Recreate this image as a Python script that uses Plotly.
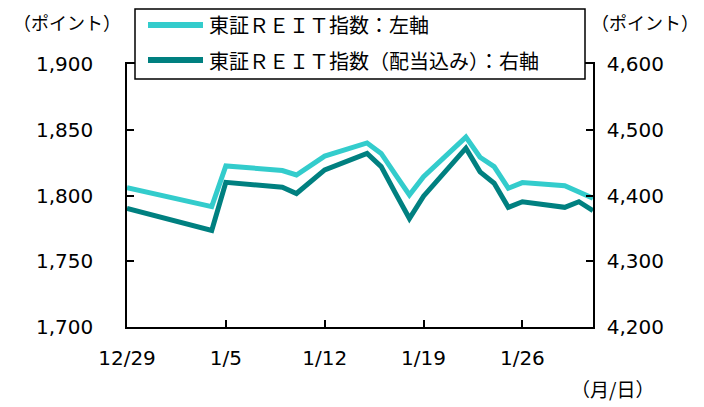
import plotly.graph_objects as go

dates = ["2023-12-29", "2024-01-04", "2024-01-05", "2024-01-09", "2024-01-10", "2024-01-11",
         "2024-01-12", "2024-01-15", "2024-01-16", "2024-01-17", "2024-01-18", "2024-01-19",
         "2024-01-22", "2024-01-23", "2024-01-24", "2024-01-25", "2024-01-26", "2024-01-29",
         "2024-01-30", "2024-01-31"]
reit_index = [1806, 1791.5, 1822.5, 1819, 1815.6, 1823, 1830, 1840, 1832, 1816, 1800.4, 1814.3,
              1844.4, 1829.1, 1822, 1805.5, 1809.8, 1807.5, 1802.9, 1797.9]
reit_total = [4380.5, 4347, 4420, 4412.5, 4403, 4421, 4439, 4464, 4444, 4404, 4365, 4399,
              4472, 4436, 4418.6, 4382, 4390.5, 4382, 4390.5, 4377]

tick_dates = ["2023-12-29", "2024-01-05", "2024-01-12", "2024-01-19", "2024-01-26"]
tick_labels = ["12/29", "1/5", "1/12", "1/19", "1/26"]
name_left = "東証ＲＥＩＴ指数：左軸"
name_right = "東証ＲＥＩＴ指数（配当込み）：右軸"

c_light = "#33CCCC"
c_dark = "#008080"
num_font = dict(family="DejaVu Sans, Verdana, sans-serif", size=20, color="black")
jp_font = "Noto Sans CJK JP"

fig = go.Figure()
fig.add_trace(go.Scatter(x=dates, y=reit_index, mode="lines", name=name_left,
                         line=dict(color=c_light, width=5), yaxis="y"))
fig.add_trace(go.Scatter(x=dates, y=reit_total, mode="lines", name=name_right,
                         line=dict(color=c_dark, width=5), yaxis="y2"))

# page body has an 8px margin, so the figure is sized/offset to compensate
fig.update_layout(
    width=696, height=399,
    margin=dict(l=119, r=111, t=56, b=80),
    paper_bgcolor="white", plot_bgcolor="white",
    showlegend=False,
    xaxis=dict(type="date", range=["2023-12-29", "2024-01-31"],
               tickvals=tick_dates, ticktext=tick_labels,
               ticks="inside", ticklen=7, tickcolor="black", tickwidth=1.5,
               showline=True, linecolor="black", linewidth=1.5, mirror=True,
               showgrid=False, zeroline=False, tickfont=num_font, ticklabelstandoff=12),
    yaxis=dict(range=[1700, 1900], dtick=50, tickformat=",",
               ticks="inside", ticklen=7, tickcolor="black", tickwidth=1.5,
               showline=True, linecolor="black", linewidth=1.5, mirror=True,
               showgrid=False, zeroline=False, tickfont=num_font, ticklabelstandoff=28),
    yaxis2=dict(range=[4200, 4600], dtick=100, tickformat=",", overlaying="y", side="right",
                ticks="inside", ticklen=7, tickcolor="black", tickwidth=1.5,
                showline=True, linecolor="black", linewidth=1.5,
                showgrid=False, zeroline=False, tickfont=num_font, ticklabelstandoff=8),
)

# convert reference-pixel positions to plot-area paper coordinates (plot area 127..593 x 64..327)
def px(x):
    return (x - 127) / 466
def py(y):
    return (327 - y) / 263

title_font = dict(family=jp_font, size=18, color="black")
# axis titles
fig.add_annotation(x=px(11), y=py(22), xref="paper", yref="paper", xanchor="left", yanchor="middle",
                   text="（ポイント）", showarrow=False, font=title_font)
fig.add_annotation(x=px(701), y=py(22), xref="paper", yref="paper", xanchor="right", yanchor="middle",
                   text="（ポイント）", showarrow=False, font=title_font)
fig.add_annotation(x=px(612), y=py(388), xref="paper", yref="paper", xanchor="center", yanchor="middle",
                   text="（月/日）", showarrow=False, font=dict(family=jp_font, size=19, color="black"))

# legend drawn in plot-area coordinates
fig.add_shape(type="rect", xref="paper", yref="paper", x0=px(135), x1=px(585), y0=py(9), y1=py(79),
              line=dict(color="black", width=1.5), fillcolor="white", layer="above")
for yy, col, txt in [(25, c_light, name_left), (60, c_dark, name_right)]:
    fig.add_shape(type="line", xref="paper", yref="paper", x0=px(148), x1=px(203), y0=py(yy), y1=py(yy),
                  line=dict(color=col, width=6), layer="above")
    fig.add_annotation(x=px(207), y=py(yy), xref="paper", yref="paper", xanchor="left", yanchor="middle",
                       text=txt, showarrow=False, font=dict(family=jp_font, size=20, color="black"))

fig.write_html("out.html")
